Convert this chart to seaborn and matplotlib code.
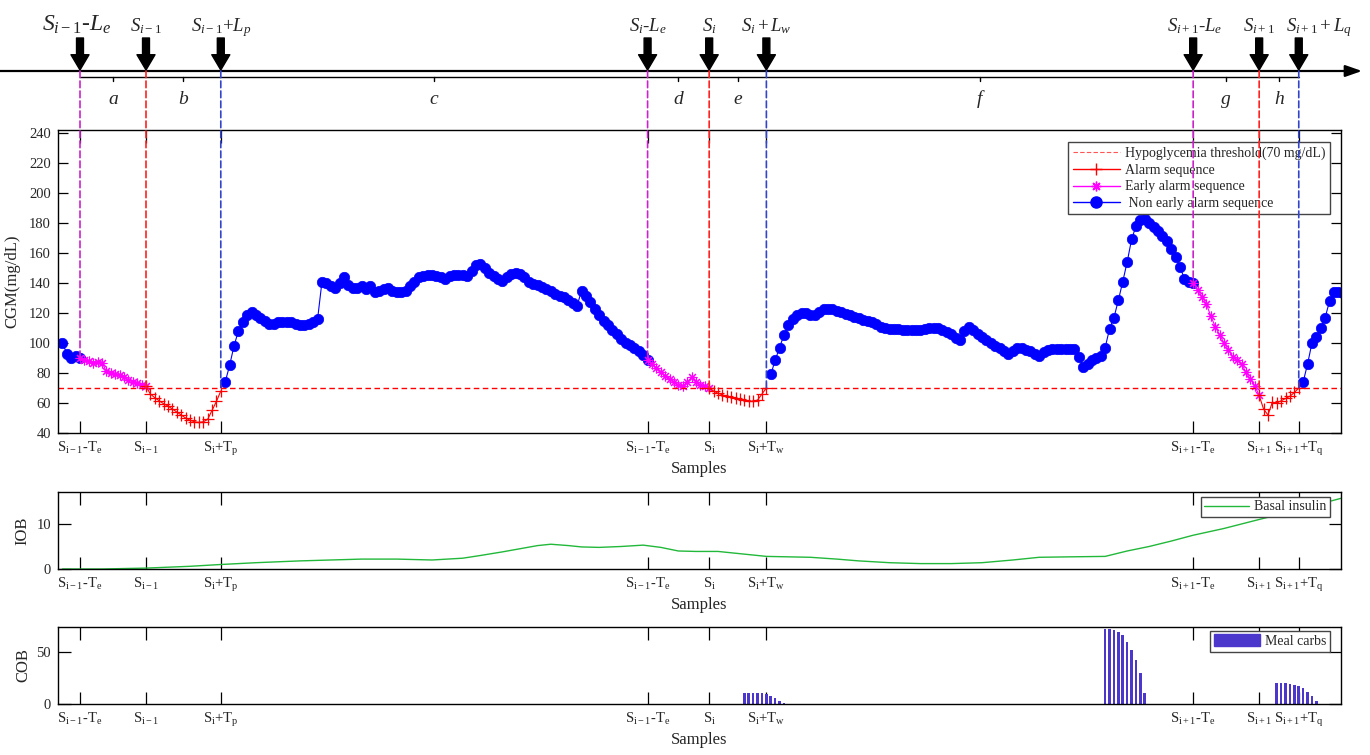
import matplotlib
matplotlib.use('Agg')
import matplotlib.pyplot as plt
import seaborn as sns
import numpy as np
import pandas as pd
from matplotlib.patches import ConnectionPatch, Patch
from matplotlib.lines import Line2D

sns.set_style('ticks')
plt.rcParams['font.family'] = ['Liberation Serif', 'DejaVu Serif']
plt.rcParams['mathtext.fontset'] = 'custom'
plt.rcParams['mathtext.rm'] = 'Liberation Serif'
plt.rcParams['mathtext.it'] = 'Liberation Serif:italic'
plt.rcParams['mathtext.bf'] = 'Liberation Serif:bold'
plt.rcParams['axes.edgecolor'] = 'black'
plt.rcParams['axes.linewidth'] = 1.0

# CGM (mg/dL), one value per sample, starting at sample 1
cgm = [100, 93, 90, 91.5, 90, 88.5, 88, 87, 87.5, 87,
       81, 80, 79, 78.5, 77, 75.5, 74, 73, 72, 71,
       66, 63.5, 61.5, 59.5, 58, 56, 54, 52, 50, 48.5,
       47.5, 47, 47.5, 49, 55, 61, 68, 74, 85, 98,
       108, 114, 119, 121, 119, 117, 115, 113, 113, 114,
       114, 114, 114, 113, 112, 112, 113, 114, 116, 141,
       140, 138, 137, 140, 144, 139, 137, 137, 138, 136,
       138, 134, 135, 136, 136.5, 135, 134, 134, 135, 138,
       141, 144, 145, 145.5, 145.5, 145, 144, 143, 145, 145.5,
       145.5, 145.5, 145, 148, 152, 153, 150, 147, 145, 143,
       141.5, 144, 146, 147, 146, 144, 141, 139.5, 138.5, 137.5,
       136, 134.5, 133, 131.5, 130.5, 129, 127, 125, 135, 131.5,
       127.5, 122.5, 118.5, 115, 112, 109, 106, 103, 100, 98.5,
       96.5, 94.5, 92, 89, 86, 83, 80.5, 78, 76, 74,
       72, 71.5, 74, 77, 74, 72, 71, 70, 68, 66.5,
       65.5, 64.5, 64, 63, 62.5, 62, 61.5, 61, 62, 66,
       70, 79, 88.5, 97, 105.5, 112, 116, 118.5, 120, 120,
       119, 119, 121, 122.5, 123, 123, 121.5, 120.5, 119.5, 118.5,
       117.5, 116.5, 115.5, 115, 114, 112.5, 111, 110, 109.5, 109.5,
       109.5, 109, 108.5, 108.5, 108.5, 109, 109.5, 110, 110, 110,
       109, 107.5, 106, 103.5, 102, 108, 111, 109, 106, 104,
       102, 100, 98, 96.5, 94.5, 93, 94.5, 97, 97, 95.5,
       94.5, 93, 91.5, 94, 95.5, 96, 96, 96, 96, 96,
       96, 91, 84, 86, 88.5, 90, 91.5, 97, 109.5, 117,
       128.5, 141, 154, 169, 178, 182, 183, 180, 177.5, 174.5,
       171.5, 168, 162.5, 157.5, 150.5, 143, 141, 140, 135.5, 131,
       126, 118, 111, 105.5, 100, 95.5, 91, 88.5, 86, 80.5,
       76, 71.5, 65, 56, 52, 60.5, 60, 61.5, 63, 64.5,
       67, 70, 74, 86, 100, 104, 110, 117, 128, 134,
       134, 133.5]

early_idx = [5, 134, 258]      # S - L_e
alarm_idx = [20, 148, 273]     # S
recover_idx = [37, 161, 282]   # S + L
threshold = 70

tick_labels = [r'S$_{\mathrm{i-1}}$-T$_{\mathrm{e}}$', r'S$_{\mathrm{i-1}}$', r'S$_{\mathrm{i}}$+T$_{\mathrm{p}}$',
               r'S$_{\mathrm{i-1}}$-T$_{\mathrm{e}}$', r'S$_{\mathrm{i}}$', r'S$_{\mathrm{i}}$+T$_{\mathrm{w}}$',
               r'S$_{\mathrm{i+1}}$-T$_{\mathrm{e}}$', r'S$_{\mathrm{i+1}}$', r'S$_{\mathrm{i+1}}$+T$_{\mathrm{q}}$']
top_labels = [r'$S_{i-1}$-$L_e$', r'$S_{i-1}$', r'$S_{i-1}$+$L_p$',
              r'$S_i$-$L_e$', r'$S_i$', r'$S_i + L_w$',
              r'$S_{i+1}$-$L_e$', r'$S_{i+1}$', r'$S_{i+1} + L_q$']
segment_letters = ['a', 'b', 'c', 'd', 'e', 'f', 'g', 'h']

# insulin on board (basal)
iob_x = [1, 10, 20, 30, 37, 45, 55, 62, 69, 77, 85, 92, 96, 101, 105, 109, 112, 116, 119, 123,
         128, 133, 137, 141, 145, 150, 155, 161, 166, 171, 177, 182, 189, 196, 203, 210, 217, 223,
         230, 238, 243, 248, 253, 258, 265, 273, 282, 292]
iob = [0, 0, 0.2, 0.6, 1.0, 1.4, 1.8, 2.0, 2.2, 2.2, 2.0, 2.4, 3.0, 3.8, 4.5, 5.2, 5.5, 5.2, 4.9, 4.8,
       5.0, 5.3, 4.8, 4.0, 3.9, 3.9, 3.4, 2.8, 2.7, 2.6, 2.2, 1.8, 1.4, 1.2, 1.2, 1.4, 2.0, 2.6,
       2.7, 2.8, 4.0, 5.0, 6.2, 7.5, 9.0, 11.0, 13.2, 15.8]

# carbs on board (meal)
cob_x = [156, 157, 158, 159, 160, 161, 162, 163, 164, 165,
         238, 239, 240, 241, 242, 243, 244, 245, 246, 247,
         277, 278, 279, 280, 281, 282, 283, 284, 285, 286]
cob = [11, 11, 11, 11, 11, 10, 8, 6, 3, 1,
       72, 72, 71, 69, 66, 60, 52, 42, 30, 11,
       20.5, 20.5, 20, 19.5, 18.5, 17, 15, 12, 8, 3]

# ---------------------------------------------------------------
W, H = 1370, 755
fig = plt.figure(figsize=(W / 100, H / 100), dpi=100)


def box(l, t, r, b):
    return [l / W, 1 - b / H, (r - l) / W, (b - t) / H]


ax_top = fig.add_axes(box(0, 0, W, 125))
ax = fig.add_axes(box(58, 130, 1341, 433))
ax_iob = fig.add_axes(box(58, 492, 1341, 569))
ax_cob = fig.add_axes(box(58, 627, 1341, 704))

x_lo, x_hi = 0, 291.6
scale = (1341 - 58) / (x_hi - x_lo)


def px2x(p):
    return x_lo + (p - 58) / scale


df = pd.DataFrame({'sample': np.arange(1, len(cgm) + 1), 'cgm': cgm})


def seg(a, b):
    return df[(df['sample'] >= a) & (df['sample'] <= b)]


blue_segs = [(1, early_idx[0])] + [(recover_idx[k] + 1, early_idx[k + 1]) for k in range(2)] \
    + [(recover_idx[-1] + 1, len(cgm))]
mag_segs = list(zip(early_idx, alarm_idx))
red_segs = list(zip(alarm_idx, recover_idx))

for a, b in blue_segs:
    sns.lineplot(data=seg(a, b), x='sample', y='cgm', ax=ax, color='blue', lw=0.8,
                 marker='o', markersize=7.5, markeredgecolor='blue', markeredgewidth=0.5)
for a, b in mag_segs:
    sns.lineplot(data=seg(a, b), x='sample', y='cgm', ax=ax, color='#ff00ff', lw=0.8,
                 marker=(8, 2, 0), markersize=7, markeredgecolor='#ff00ff', markeredgewidth=0.8)
for a, b in red_segs:
    sns.lineplot(data=seg(a, b), x='sample', y='cgm', ax=ax, color='red', lw=0.8,
                 marker='+', markersize=8.5, markeredgecolor='red', markeredgewidth=0.9)
ax.axhline(threshold, color='red', ls=(0, (4, 2.5)), lw=1.0)

boundaries = sorted(early_idx + alarm_idx + recover_idx)

for a in (ax, ax_iob, ax_cob):
    a.set_xlim(x_lo, x_hi)
    a.set_xticks(boundaries)
    a.set_xticklabels(tick_labels, fontsize=10.5)
    a.set_xlabel('Samples', fontsize=12, labelpad=2)
    a.tick_params(direction='in', top=True, right=True, bottom=True, left=True,
                  length=9, width=0.9, labelsize=10.5, pad=5, color='black')

ax.set_ylim(40, 242)
ax.set_yticks(range(40, 241, 20))
ax.tick_params(axis='y', length=7)
ax.set_ylabel('CGM(mg/dL)', fontsize=12, labelpad=6)

handles = [Line2D([], [], color='#ff5555', ls=(0, (4, 2)), lw=0.8),
           Line2D([], [], color='red', lw=1, marker='+', markersize=8, mec='red'),
           Line2D([], [], color='#ff00ff', lw=1, marker=(8, 2, 0), markersize=7, mec='#ff00ff'),
           Line2D([], [], color='blue', lw=1, marker='o', markersize=8, mec='blue')]
labels = ['Hypoglycemia threshold(70 mg/dL)', 'Alarm sequence', 'Early alarm sequence',
          ' Non early alarm sequence']
leg = ax.legend(handles, labels, loc='upper right', bbox_to_anchor=(1 - 11 / 1283, 1 - 12 / 303),
                borderaxespad=0, fontsize=10, frameon=True, fancybox=False, framealpha=1,
                edgecolor='#444444', handlelength=3.4, labelspacing=0.28, borderpad=0.3,
                handletextpad=0.4)
leg.get_frame().set_linewidth(1.0)

# IOB
sns.lineplot(x=iob_x, y=iob, ax=ax_iob, color='#22b83a', lw=1.0, label='Basal insulin')
ax_iob.set_ylim(0, 17.1)
ax_iob.set_yticks([0, 10])
ax_iob.set_ylabel('IOB', fontsize=12)
leg2 = ax_iob.legend(loc='upper right', bbox_to_anchor=(1 - 11 / 1283, 1 - 5 / 77), borderaxespad=0,
                     fontsize=10, fancybox=False, framealpha=1, edgecolor='#444444',
                     handlelength=3.2, borderpad=0.25, handletextpad=0.4)

# COB
bar_color = '#4b37cc'
sns.barplot(x=cob_x, y=cob, ax=ax_cob, native_scale=True, width=0.6, color=bar_color,
            saturation=1, errorbar=None, edgecolor=bar_color, linewidth=0)
ax_cob.set_xlim(x_lo, x_hi)
ax_cob.set_xticks(boundaries)
ax_cob.set_xticklabels(tick_labels, fontsize=10.5)
ax_cob.set_ylim(0, 74)
ax_cob.set_yticks([0, 50])
ax_cob.set_ylabel('COB', fontsize=12)
leg3 = ax_cob.legend([Patch(facecolor=bar_color, edgecolor=bar_color)], ['Meal carbs'], loc='upper right',
                     bbox_to_anchor=(1 - 11 / 1283, 1 - 4 / 77), borderaxespad=0, fontsize=10,
                     fancybox=False, framealpha=1, edgecolor='#444444', handlelength=3.3,
                     handleheight=0.9, borderpad=0.25, handletextpad=0.4)

# timeline on top
ax_top.set_xlim(px2x(0), px2x(W))
ax_top.set_ylim(125, 0)
ax_top.axis('off')
ax_top.annotate('', xy=(px2x(1362), 71), xytext=(px2x(0), 71),
                arrowprops=dict(arrowstyle='-|>,head_length=1.0,head_width=0.35', lw=1.6,
                                color='black', shrinkA=0, shrinkB=0, mutation_scale=10))
ax_top.plot([boundaries[0], boundaries[-1]], [77, 77], color='black', lw=1.0)
label_shift = [-3, 0, 0, 0, 0, 0, 2, 0, 20]   # small horizontal nudges, in px
for k, (x, lab) in enumerate(zip(boundaries, top_labels)):
    ax_top.annotate('', xy=(x, 70), xytext=(x, 38),
                    arrowprops=dict(arrowstyle='simple,head_length=1.1,head_width=1.3,tail_width=0.5',
                                    color='black', shrinkA=0, shrinkB=0, mutation_scale=10))
    ax_top.text(x + label_shift[k] / scale, 31, lab, ha='center', va='baseline',
                fontsize=17 if k == 0 else 13.5)
for a, b, letter in zip(boundaries[:-1], boundaries[1:], segment_letters):
    m = (a + b) / 2
    ax_top.plot([m, m], [77, 81], color='black', lw=1.0)
    ax_top.text(m, 99, letter, ha='center', va='center', fontsize=14, style='italic')

# dashed links from the timeline down to the curve
line_colors = {'early': '#cc22cc', 'alarm': '#ff2222', 'recover': '#3344cc'}
for kind, idxs in (('early', early_idx), ('alarm', alarm_idx), ('recover', recover_idx)):
    for x in idxs:
        yend = cgm[x - 1] if kind == 'early' else threshold
        con = ConnectionPatch(xyA=(x, 71), coordsA=ax_top.transData, xyB=(x, yend),
                              coordsB=ax.transData, color=line_colors[kind], lw=1.2,
                              linestyle=(0, (4, 2)))
        fig.add_artist(con)

fig.savefig('out.png', dpi=100)
